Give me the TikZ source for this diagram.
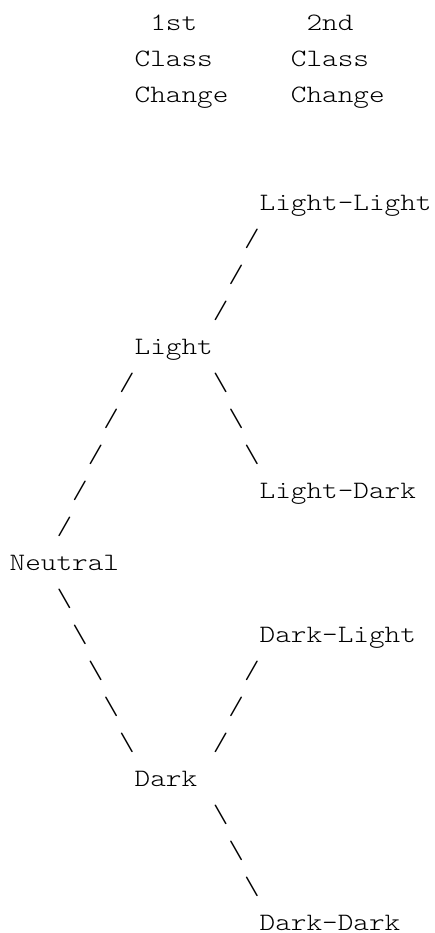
\documentclass[tikz,border=0pt]{standalone}
\usepackage{fontspec}
\newfontfamily\asciifont{lmmonolt10-regular.otf}[FakeStretch=1.1905]
\newcommand\asciicell[4]{\node[asciitxt,name=#1] at ({9.7+15.625*#2},{30.5+36*#3}) {#4};}
\begin{document}
\begin{tikzpicture}[x=1pt,y=-1pt,
  asciitxt/.style={anchor=base west,inner sep=0pt,outer sep=0pt,text=black,
    font=\asciifont\fontsize{25}{36}\selectfont}]
\useasboundingbox[fill=white] (0,0) rectangle (434,933);
% header
\asciicell{h1a}{9}{0}{1st}
\asciicell{h2a}{19}{0}{2nd}
\asciicell{h1b}{8}{1}{Class}
\asciicell{h2b}{18}{1}{Class}
\asciicell{h1c}{8}{2}{Change}
\asciicell{h2c}{18}{2}{Change}
% nodes
\asciicell{LL}{16}{5}{Light-Light}
\asciicell{L}{8}{9}{Light}
\asciicell{LD}{16}{13}{Light-Dark}
\asciicell{N}{0}{15}{Neutral}
\asciicell{DL}{16}{17}{Dark-Light}
\asciicell{D}{8}{21}{Dark}
\asciicell{DD}{16}{25}{Dark-Dark}
% L -> LL
\asciicell{a1}{15}{6}{/}
\asciicell{a2}{14}{7}{/}
\asciicell{a3}{13}{8}{/}
% N -> L
\asciicell{b1}{7}{10}{/}
\asciicell{b2}{6}{11}{/}
\asciicell{b3}{5}{12}{/}
\asciicell{b4}{4}{13}{/}
\asciicell{b5}{3}{14}{/}
% L -> LD
\asciicell{c1}{13}{10}{\textbackslash}
\asciicell{c2}{14}{11}{\textbackslash}
\asciicell{c3}{15}{12}{\textbackslash}
% N -> D
\asciicell{d1}{3}{16}{\textbackslash}
\asciicell{d2}{4}{17}{\textbackslash}
\asciicell{d3}{5}{18}{\textbackslash}
\asciicell{d4}{6}{19}{\textbackslash}
\asciicell{d5}{7}{20}{\textbackslash}
% D -> DL
\asciicell{e1}{15}{18}{/}
\asciicell{e2}{14}{19}{/}
\asciicell{e3}{13}{20}{/}
% D -> DD
\asciicell{f1}{13}{22}{\textbackslash}
\asciicell{f2}{14}{23}{\textbackslash}
\asciicell{f3}{15}{24}{\textbackslash}
\end{tikzpicture}
\end{document}
